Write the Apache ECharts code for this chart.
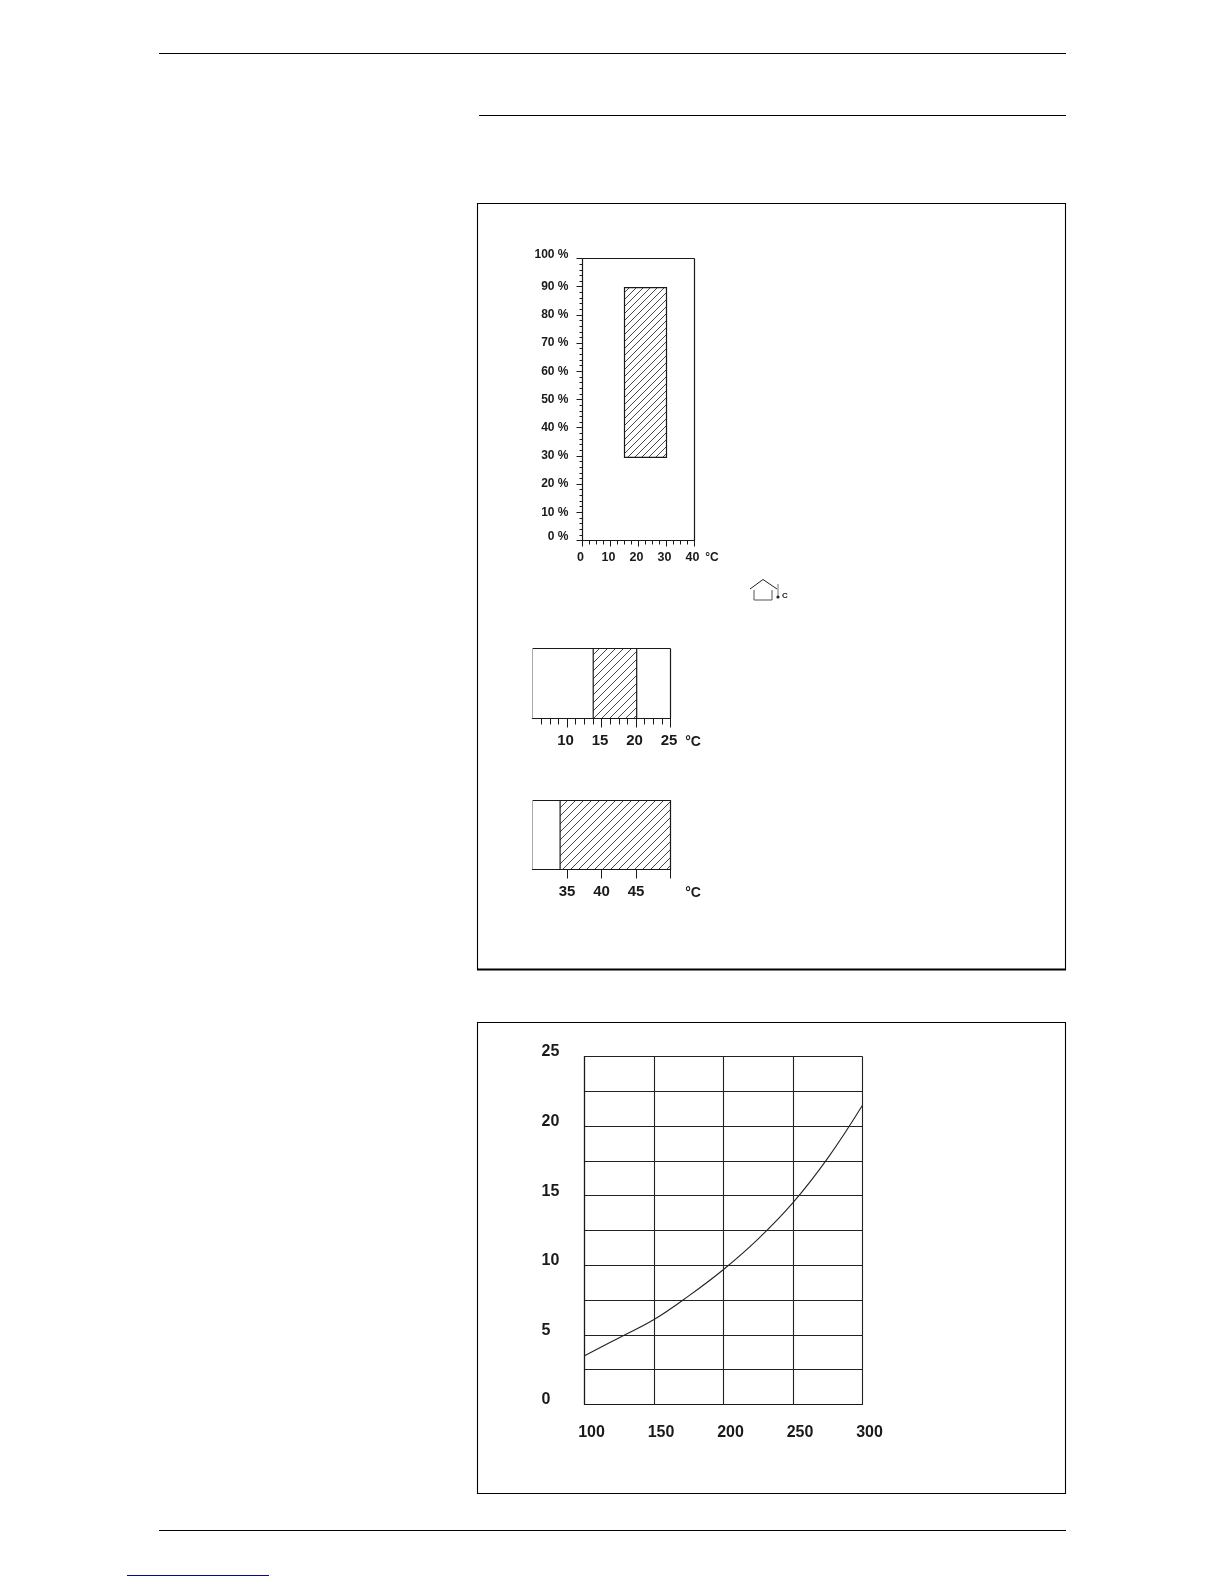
<!DOCTYPE html>
<html><head><meta charset="utf-8">
<style>html,body{margin:0;padding:0;background:#fff}#c{width:1224px;height:1584px}</style>
<script src="https://cdn.jsdelivr.net/npm/echarts@6/dist/echarts.min.js"></script>
</head><body><div id="c"></div>
<script>
// ---- data ----
const humidityTempRange = [15, 30];
const humidityRange = [29.5, 89.7];
const coolingRange = [13.8, 20.1];
const heatingRange = [34, 50];
const curveX = [100,125,150,175,200,225,250,275,300];
const curveY = [3.5,4.8,6.1,7.8,9.7,11.9,14.5,17.7,21.5];

const INK = '#1a1a1a';
const FONT = '"Liberation Sans", Arial, sans-serif';

function hatch(step){
  const c = document.createElement('canvas');
  c.width = step; c.height = step;
  const g = c.getContext('2d');
  g.fillStyle = '#fff'; g.fillRect(0,0,step,step);
  g.strokeStyle = '#333'; g.lineWidth = 0.9;
  g.beginPath();
  g.moveTo(-1,step+1); g.lineTo(step+1,-1);
  g.moveTo(-1,1); g.lineTo(1,-1);
  g.moveTo(step-1,step+1); g.lineTo(step+1,step-1);
  g.stroke();
  return {image:c, repeat:'repeat'};
}

function bandSeries(idx, xr, yr, step){
  const pattern = hatch(step);
  return {
    type:'custom', xAxisIndex:idx, yAxisIndex:idx, silent:true, clip:false,
    data:[[xr[0],xr[1],yr[0],yr[1]]],
    renderItem(p, api){
      const a = api.coord([api.value(0), api.value(3)]);
      const b = api.coord([api.value(1), api.value(2)]);
      return {type:'rect', shape:{x:a[0],y:a[1],width:b[0]-a[0],height:b[1]-a[1]},
        style:{fill:pattern, stroke:INK, lineWidth:1.2}};
    },
    encode:{x:[0,1],y:[2,3]}
  };
}
const lbl = (size,extra)=>Object.assign({fontFamily:FONT,fontSize:size,color:INK,fontWeight:'bold'},extra||{});
const rect = (x,y,w,h,lw)=>({type:'rect',silent:true,shape:{x,y,width:w,height:h},style:{fill:'none',stroke:'#000',lineWidth:lw||1}});
const hline = (x1,x2,y,color,lw)=>({type:'line',silent:true,shape:{x1,y1:y,x2,y2:y},style:{stroke:color||'#000',lineWidth:lw||1}});
const vline = (x,y1,y2,color,lw)=>({type:'line',silent:true,shape:{x1:x,y1,x2:x,y2},style:{stroke:color||INK,lineWidth:lw||1.2}});
const txt = (x,y,text,size)=>({type:'text',silent:true,x,y,style:{text,fill:INK,font:'bold '+size+'px '+FONT,textAlign:'center',textVerticalAlign:'middle'}});

const option = {
  animation:false, backgroundColor:'#fff',
  grid:[
    {left:582.5,top:258.5,width:112,height:282},
    {left:532.5,top:648.5,width:138,height:70},
    {left:532.5,top:800.5,width:138,height:69},
    {left:584.5,top:1056.5,width:278,height:348}
  ],
  xAxis:[
    {gridIndex:0,type:'value',min:0,max:40,interval:10,
     axisLine:{show:true,lineStyle:{color:INK,width:1.2}},
     axisTick:{show:true,length:6,lineStyle:{color:INK}},
     minorTick:{show:true,splitNumber:4,length:4,lineStyle:{color:INK}},
     splitLine:{show:false},
     axisLabel:lbl(12.5,{margin:11,padding:[0,4,0,0]})},
    {gridIndex:1,type:'value',min:5,max:25,interval:5,
     axisLine:{show:true,lineStyle:{color:INK,width:1.2}},
     axisTick:{show:true,length:9,customValues:[10,15,20,25],lineStyle:{color:INK}},
     minorTick:{show:true,splitNumber:4,length:6,lineStyle:{color:INK}},
     splitLine:{show:false},
     axisLabel:lbl(15,{margin:15,padding:[0,3,0,0],customValues:[10,15,20,25]})},
    {gridIndex:2,type:'value',min:30,max:50,interval:5,
     axisLine:{show:true,lineStyle:{color:INK,width:1.2}},
     axisTick:{show:true,length:9,customValues:[35,40,45,50],lineStyle:{color:INK}},
     splitLine:{show:false},
     axisLabel:lbl(15,{margin:15,customValues:[35,40,45]})},
    {gridIndex:3,type:'value',min:100,max:300,interval:50,
     axisLine:{show:true,lineStyle:{color:INK,width:1.2}},
     axisTick:{show:false},
     splitLine:{show:true,lineStyle:{color:'#222',width:1.1}},
     axisLabel:lbl(16,{margin:20,padding:[0,0,0,14]})}
  ],
  yAxis:[
    {gridIndex:0,type:'value',min:0,max:100,interval:10,
     axisLine:{show:true,lineStyle:{color:INK,width:1.2}},
     axisTick:{show:true,length:6,lineStyle:{color:INK}},
     minorTick:{show:true,splitNumber:5,length:3,lineStyle:{color:INK}},
     splitLine:{show:false},
     axisLabel:lbl(12,{margin:14,
       formatter:v=>(v===0||v===100)?'{u|'+v+' %}':v+' %',
       rich:{u:lbl(12,{padding:[0,0,7,0]})}})},
    {gridIndex:1,type:'value',min:0,max:1,axisLine:{show:true,lineStyle:{color:'#aaa',width:1}},axisTick:{show:false},axisLabel:{show:false},splitLine:{show:false}},
    {gridIndex:2,type:'value',min:0,max:1,axisLine:{show:true,lineStyle:{color:'#aaa',width:1}},axisTick:{show:false},axisLabel:{show:false},splitLine:{show:false}},
    {gridIndex:3,type:'value',min:0,max:25,interval:2.5,
     axisLine:{show:true,lineStyle:{color:INK,width:1.2}},
     axisTick:{show:false},
     splitLine:{show:true,lineStyle:{color:'#222',width:1.1}},
     axisLabel:lbl(16,{margin:43,align:'left',
        formatter:v=>v%5===0?'{u|'+v+'}':'',
        rich:{u:lbl(16,{padding:[0,0,9,0]})}})}
  ],
  series:[
    bandSeries(0,humidityTempRange,humidityRange,7),
    bandSeries(1,coolingRange,[0,1],8),
    bandSeries(2,heatingRange,[0,1],8),
    {type:'line',xAxisIndex:3,yAxisIndex:3,smooth:0.4,symbol:'none',silent:true,
     data:curveX.map((x,i)=>[x,curveY[i]]),lineStyle:{color:'#222',width:1.1}}
  ],
  graphic:{elements:[
    hline(159,1066,53.5,'#000',1.2), hline(479,1066,115.5,'#000',1.2),
    rect(477.5,203.5,588,766,1.1), hline(477,1066,969.5,'#000',2),
    rect(477.5,1022.5,588,471,1.1),
    hline(159,1066,1530.5,'#000',1.2), hline(127,269,1575.5,'#0a0a80',1),
    // closing edges of the plot frames
    vline(694.5,258.5,540.5), hline(582.5,694.5,258.5,INK,1.2),
    vline(670.5,648.5,718.5), hline(532.5,670.5,648.5,INK,1.2),
    hline(532.5,670.5,800.5,INK,1.2),
    txt(712,558,'°C',12), txt(693,742,'°C',14), txt(693,893,'°C',14),
    // house + thermometer pictogram
    {type:'polyline',silent:true,shape:{points:[[750,589],[763,579.5],[777,589]]},style:{fill:'none',stroke:'#222',lineWidth:1}},
    {type:'polyline',silent:true,shape:{points:[[754,590],[754,600],[772,600],[772,590]]},style:{fill:'none',stroke:'#555',lineWidth:1}},
    vline(778,584,597,'#777',1),
    {type:'circle',silent:true,shape:{cx:778,cy:597,r:1.6},style:{fill:'#222'}},
    txt(785,596,'C',8)
  ]}
};
const chart = echarts.init(document.getElementById('c'),null,{renderer:'canvas',width:1224,height:1584});
chart.setOption(option);
</script></body></html>
